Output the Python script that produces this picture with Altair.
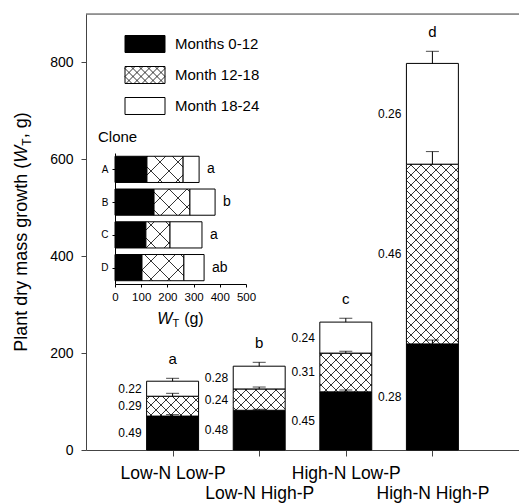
import json
import math
import altair as alt
import pandas as pd

# ---------------- data ----------------
treatments = ["Low-N Low-P", "Low-N High-P", "High-N Low-P", "High-N High-P"]
segments = ["Months 0-12", "Month 12-18", "Month 18-24"]
black_g = [70, 82, 120, 219]
hatch_g = [41, 44, 80, 371]
white_g = [31, 47, 64, 208]
se_black = [3, 2, 4, 8]
se_hatch = [6, 4, 4, 26]
se_white = [6, 8, 8, 25]
frac_black = [0.49, 0.48, 0.45, 0.28]
frac_hatch = [0.29, 0.24, 0.31, 0.46]
frac_white = [0.22, 0.28, 0.24, 0.26]
letters = ["a", "b", "c", "d"]

clones = ["A", "B", "C", "D"]
clone_black = [122, 149, 118, 103]
clone_hatch = [138, 137, 92, 160]
clone_white = [61, 96, 122, 77]
clone_letters = ["a", "b", "a", "ab"]

y_ticks = [0, 200, 400, 600, 800]
inset_ticks = [0, 100, 200, 300, 400, 500]

# ---------------- layout ----------------
FONT = "Liberation Sans, Arial, sans-serif"
AXC = "#444444"
W, H = 433, 436
XDOM, YDOM = [0, 5], [0, 900]
SX, SY = W / (XDOM[1] - XDOM[0]), H / (YDOM[1] - YDOM[0])
HALF = 0.3
FILLS = ["black", "white", "white"]

# inset placement (plot coordinates)
IXR, IYR = [29, 160], [139, 270]
IXDOM, IYDOM = [0, 500], [-0.5, 3.5]
ISX = (IXR[1] - IXR[0]) / (IXDOM[1] - IXDOM[0])
ISY = (IYR[1] - IYR[0]) / (IYDOM[1] - IYDOM[0])
IHALF = 0.4

# legend placement (plot coordinates)
LXR, LYR = [39, 79], [14.5, 107.5]
LXDOM, LYDOM = [0, 1], [-0.5, 2.5]
LSX = (LXR[1] - LXR[0]) / (LXDOM[1] - LXDOM[0])
LSY = (LYR[1] - LYR[0]) / (LYDOM[1] - LYDOM[0])
LHALF = 0.274


def hatch(px0, px1, py0, py1, p):
    """Cross-hatch segments clipped to a pixel rectangle."""
    py0, py1 = min(py0, py1), max(py0, py1)
    out = []
    for k in range(math.ceil((px0 - py1) / p), math.floor((px1 - py0) / p) + 1):
        c = k * p
        ya, yb = max(py0, px0 - c), min(py1, px1 - c)
        if yb - ya > 0.5:
            out.append((ya + c, ya, yb + c, yb))
    for k in range(math.ceil((px0 + py0) / p), math.floor((px1 + py1) / p) + 1):
        c = k * p
        ya, yb = max(py0, c - px1), min(py1, c - px0)
        if yb - ya > 0.5:
            out.append((c - ya, ya, c - yb, yb))
    return out


# ---------------- main tables ----------------
rows, hrows, lrows = [], [], []
for i, t in enumerate(treatments):
    base = 0
    vals = [black_g[i], hatch_g[i], white_g[i]]
    ses = [se_black[i], se_hatch[i], se_white[i]]
    fr = [frac_black[i], frac_hatch[i], frac_white[i]]
    for s, v, e, f in zip(segments, vals, ses, fr):
        rows.append(dict(cat=i + 1, x0=i + 1 - HALF, x1=i + 1 + HALF, y0=base, y1=base + v,
                         top=base + v + e, mid=base + v / 2, frac=f, seg=s))
        if s == segments[1]:
            for a, b, c, d in hatch((i + 1 - HALF) * SX, (i + 1 + HALF) * SX, base * SY, (base + v) * SY, 10):
                hrows.append(dict(xa=a / SX, ya=b / SY, xb=c / SX, yb=d / SY))
        base += v
    lrows.append(dict(cat=i + 1, top=base + se_white[i], letter=letters[i]))
main_df = pd.DataFrame(rows)
hatch_df = pd.DataFrame(hrows)
letter_df = pd.DataFrame(lrows)

xs = alt.Scale(domain=XDOM, nice=False, zero=False)
ys = alt.Scale(domain=YDOM, nice=False, zero=False)
label_js = json.dumps([""] + treatments)
x_axis = alt.Axis(values=[1, 2, 3, 4], labelExpr=f"{label_js}[datum.value]", title=None, grid=False,
                  orient="bottom", tickSize=6, labelFontSize=17.5, labelOverlap=False, labelFlush=False,
                  labelPadding={"condition": {"test": "datum.value % 2 == 0", "value": 28}, "value": 8},
                  domainColor=AXC, tickColor=AXC, labelColor="black", labelFont=FONT)
y_axis = alt.Axis(values=y_ticks, title=None, grid=False, orient="left", tickSize=5, labelPadding=8,
                  labelFontSize=14, domainColor=AXC, tickColor=AXC, labelColor="black", labelFont=FONT)


def X(f):
    return alt.X(f, type="quantitative", scale=xs, axis=x_axis)


def Y(f):
    return alt.Y(f, type="quantitative", scale=ys, axis=y_axis)


fill_scale = alt.Scale(domain=segments, range=FILLS)

bars = alt.Chart(main_df).mark_rect(stroke="black", strokeWidth=1).encode(
    x=X("x0"), x2=alt.X2("x1"), y=Y("y0"), y2=alt.Y2("y1"),
    fill=alt.Fill("seg:N", scale=fill_scale, legend=None))
hlines = alt.Chart(hatch_df).mark_rule(color="black", strokeWidth=0.8).encode(
    x=X("xa"), x2=alt.X2("xb"), y=Y("ya"), y2=alt.Y2("yb"))
err_v = alt.Chart(main_df).mark_rule(color="black", strokeWidth=1).encode(
    x=X("cat"), y=Y("y1"), y2=alt.Y2("top"))
err_c = alt.Chart(main_df).mark_tick(color="black", orient="horizontal", size=13, thickness=1).encode(
    x=X("cat"), y=Y("top"))
frac_txt = alt.Chart(main_df).mark_text(align="right", baseline="middle", dx=-5, fontSize=12,
                                        font=FONT, color="black").encode(
    x=X("x0"), y=Y("mid"), text=alt.Text("frac:Q", format=".2f"))
let_txt = alt.Chart(letter_df).mark_text(align="center", baseline="middle", dy=-19, fontSize=15,
                                         font=FONT, color="black").encode(
    x=X("cat"), y=Y("top"), text="letter:N")
top_rule = alt.Chart(pd.DataFrame({"yv": [YDOM[1]]})).mark_rule(color=AXC, strokeWidth=1).encode(y=Y("yv"))

# y-axis title with italic W and subscript T
CW = {"P": .667, "l": .222, "a": .556, "n": .556, "t": .278, " ": .278, "\u00a0": .278, "d": .556,
      "r": .333, "y": .5, "m": .833, "s": .5, "g": .556, "o": .556, "w": .722, "h": .556, "(": .333,
      ")": .333, ",": .278, "W": .944, "T": .611}


def tw(s, size):
    return sum(CW.get(ch, .556) for ch in s) * size


y_title = [("Plant dry mass growth (", 18, "normal", 0), ("W", 18, "italic", 0),
           ("T", 12, "normal", 4), (",\u00a0g)", 18, "normal", 0)]
title_layers = []
L = sum(tw(s, z) for s, z, _, _ in y_title)
pos = H / 2 + L / 2
for s, z, st, sh in y_title:
    title_layers.append(alt.Chart(pd.DataFrame({"t": [s]})).mark_text(
        angle=270, align="left", baseline="alphabetic", fontSize=z, fontStyle=st, font=FONT,
        color="black").encode(x=alt.value(-59.5 + sh), y=alt.value(pos), text="t:N"))
    pos -= tw(s, z)

main = alt.layer(bars, hlines, err_v, err_c, frac_txt, let_txt, top_rule, *title_layers)

# ---------------- inset ----------------
irows, ihrows = [], []
for j, c in enumerate(clones):
    base = 0
    for s, v in zip(segments, [clone_black[j], clone_hatch[j], clone_white[j]]):
        irows.append(dict(idx=j, ya=j - IHALF, yb=j + IHALF, x0=base, x1=base + v, seg=s))
        if s == segments[1]:
            for a, b, cc, d in hatch(base * ISX, (base + v) * ISX, (j - IHALF + 0.5) * ISY,
                                     (j + IHALF + 0.5) * ISY, 18):
                ihrows.append(dict(xa=a / ISX, ya=b / ISY - 0.5, xb=cc / ISX, yb=d / ISY - 0.5))
        base += v
inset_df = pd.DataFrame(irows)
ihatch_df = pd.DataFrame(ihrows)
iletter_df = pd.DataFrame(dict(idx=list(range(4)),
                               tot=[a + b + c for a, b, c in zip(clone_black, clone_hatch, clone_white)],
                               letter=clone_letters))

ixs = alt.Scale(domain=IXDOM, range=IXR, nice=False, zero=False)
iys = alt.Scale(domain=IYDOM, range=IYR, nice=False, zero=False)
ix_axis = alt.Axis(values=inset_ticks, orient="bottom", offset=IYR[1] - H, tickSize=3, labelPadding=4,
                   labelFontSize=11.5, title=None, grid=False, labelFlush=False, labelOverlap=False,
                   domainColor="black", tickColor="black", labelColor="black", labelFont=FONT)
iy_axis = alt.Axis(values=[0, 1, 2, 3], orient="left", offset=-IXR[0], tickSize=3, labelPadding=4,
                   labelFontSize=10, title=None, grid=False, labelExpr=f"{json.dumps(clones)}[datum.value]",
                   domainColor="black", tickColor="black", labelColor="black", labelFont=FONT)


def IX(f):
    return alt.X(f, type="quantitative", scale=ixs, axis=ix_axis)


def IY(f):
    return alt.Y(f, type="quantitative", scale=iys, axis=iy_axis)


ibars = alt.Chart(inset_df).mark_rect(stroke="black", strokeWidth=1).encode(
    x=IX("x0"), x2=alt.X2("x1"), y=IY("ya"), y2=alt.Y2("yb"),
    fill=alt.Fill("seg:N", scale=fill_scale, legend=None))
ihl = alt.Chart(ihatch_df).mark_rule(color="black", strokeWidth=0.8).encode(
    x=IX("xa"), x2=alt.X2("xb"), y=IY("ya"), y2=alt.Y2("yb"))
ilet = alt.Chart(iletter_df).mark_text(align="left", baseline="middle", dx=8, fontSize=14,
                                       font=FONT, color="black").encode(
    x=IX("tot"), y=IY("idx"), text="letter:N")
clone_title = alt.Chart(pd.DataFrame({"t": ["Clone"]})).mark_text(
    align="left", baseline="middle", fontSize=15, font=FONT, color="black").encode(
    x=alt.value(12), y=alt.value(123), text="t:N")
ix_title = [("W", 16, "italic", 0, 0), ("T", 11, "normal", 3, 0), ("(g)", 16, "normal", 0, 5)]
ixt_layers = []
L2 = sum(tw(s, z) + g for s, z, _, _, g in ix_title)
xpos = (IXR[0] + IXR[1]) / 2 - L2 / 2
for s, z, st, sh, gap in ix_title:
    xpos += gap
    ixt_layers.append(alt.Chart(pd.DataFrame({"t": [s]})).mark_text(
        align="left", baseline="alphabetic", fontSize=z, fontStyle=st, font=FONT,
        color="black").encode(x=alt.value(xpos), y=alt.value(310 + sh), text="t:N"))
    xpos += tw(s, z)

inset = alt.layer(ibars, ihl, ilet, clone_title, *ixt_layers)

# ---------------- legend ----------------
leg_df = pd.DataFrame(dict(idx=[0, 1, 2], seg=segments, x0=[0] * 3, x1=[1] * 3,
                           ya=[k - LHALF for k in range(3)], yb=[k + LHALF for k in range(3)]))
lh = []
for a, b, c, d in hatch(0, LSX, (1 - LHALF + 0.5) * LSY, (1 + LHALF + 0.5) * LSY, 8):
    lh.append(dict(xa=a / LSX, ya=b / LSY - 0.5, xb=c / LSX, yb=d / LSY - 0.5))
leg_h_df = pd.DataFrame(lh)
lxs = alt.Scale(domain=LXDOM, range=LXR, nice=False, zero=False)
lys = alt.Scale(domain=LYDOM, range=LYR, nice=False, zero=False)

lrect = alt.Chart(leg_df).mark_rect(stroke="black", strokeWidth=1).encode(
    x=alt.X("x0:Q", scale=lxs, axis=None), x2=alt.X2("x1"),
    y=alt.Y("ya:Q", scale=lys, axis=None), y2=alt.Y2("yb"),
    fill=alt.Fill("seg:N", scale=fill_scale, legend=None))
lhl = alt.Chart(leg_h_df).mark_rule(color="black", strokeWidth=0.8).encode(
    x=alt.X("xa:Q", scale=lxs, axis=None), x2=alt.X2("xb"),
    y=alt.Y("ya:Q", scale=lys, axis=None), y2=alt.Y2("yb"))
ltxt = alt.Chart(leg_df).mark_text(align="left", baseline="middle", dx=10, fontSize=15,
                                   font=FONT, color="black").encode(
    x=alt.X("x1:Q", scale=lxs, axis=None), y=alt.Y("idx:Q", scale=lys, axis=None), text="seg:N")
legend = alt.layer(lrect, lhl, ltxt)

chart = alt.layer(main, inset, legend).resolve_scale(x="independent", y="independent").properties(
    width=W, height=H, autosize=alt.AutoSizeParams(type="none"),
    padding={"left": 86, "top": 14, "right": 0, "bottom": 53},
).configure_view(stroke=None).configure(font=FONT)

chart.save("out.html", embed_options={"renderer": "svg", "actions": False})
